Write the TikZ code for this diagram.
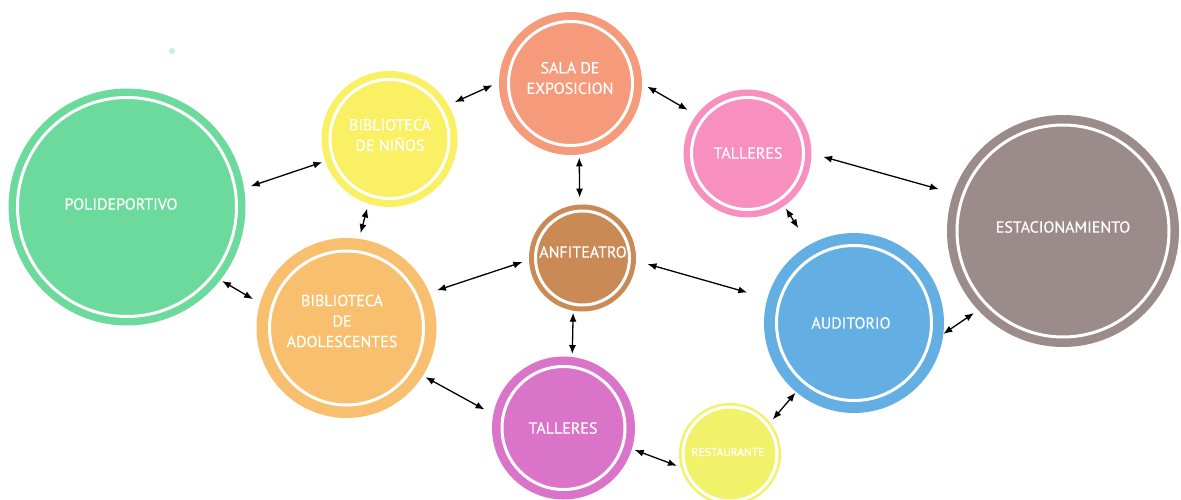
\documentclass[tikz,border=0pt]{standalone}
\usepackage{fontspec}
\setmainfont{PT Sans}
\newfontfamily\roomfont{PT Sans}[FakeBold=0.3]
\usepackage{xcolor}
\usepackage{tikz}
\usetikzlibrary{arrows.meta}
\definecolor{polidgreen}{HTML}{6CDA9C}
\definecolor{ninosyellow}{HTML}{FAF063}
\definecolor{salasalmon}{HTML}{F59A7A}
\definecolor{talleresrosa}{HTML}{F78FBF}
\definecolor{estacgray}{HTML}{9B8B8A}
\definecolor{anfibrown}{HTML}{C98A55}
\definecolor{adolorange}{HTML}{F8C06E}
\definecolor{audiblue}{HTML}{63AEE3}
\definecolor{talleresmagenta}{HTML}{DA74C8}
\definecolor{restyellow}{HTML}{F2F26A}
\definecolor{dotgreen}{HTML}{C8F0D2}

\tikzset{
  room/.style n args={3}{circle, inner sep=0pt, minimum size=2*#2, fill=#1,
        draw=white, line width=3pt, outer sep=#3,
        preaction={draw=#1, line width=2*#3}},
  roomtext/.style={text=white, align=center, inner sep=0pt,
        font=\roomfont\fontsize{16}{20.5}\selectfont},
  link/.style={arrows={Latex[length=9pt,width=7pt]-Latex[length=9pt,width=7pt]},
        line width=1.3pt, black},
}

\begin{document}
\begin{tikzpicture}[x=1pt, y=-1pt]
  \fill[white] (0,0) rectangle (1181,500);
  \useasboundingbox (0,0) rectangle (1181,500);
  \fill[dotgreen] (172,51) circle (3);

  % rooms
  \node[room={polidgreen}{109.5pt}{9pt}] (polid) at (127,207) {};
  \node[room={ninosyellow}{59.5pt}{8.5pt}] (ninos) at (389.5,139) {};
  \node[room={salasalmon}{62pt}{9.5pt}] (sala) at (570.5,83.5) {};
  \node[room={talleresrosa}{56pt}{8pt}] (tallA) at (747.5,153.5) {};
  \node[room={estacgray}{106pt}{10pt}] (estac) at (1063,231) {};
  \node[room={anfibrown}{47pt}{6.5pt}] (anfi) at (582.5,258) {};
  \node[room={adolorange}{77pt}{13pt}] (adol) at (346.5,328) {};
  \node[room={audiblue}{77.5pt}{12.5pt}] (audi) at (854,323) {};
  \node[room={talleresmagenta}{61.5pt}{10pt}] (tallB) at (563.5,428) {};
  \node[room={restyellow}{47pt}{4pt}] (rest) at (730,454) {};

  % names
  \node[roomtext] (polid-t) at (121,204) {POLIDEPORTIVO};
  \node[roomtext] (ninos-t) at (390,135) {BIBLIOTECA\\DE NIÑOS};
  \node[roomtext] (sala-t) at (570,78) {SALA DE\\EXPOSICION};
  \node[roomtext] (tallA-t) at (748,153) {TALLERES};
  \node[roomtext] (estac-t) at (1063,227) {ESTACIONAMIENTO};
  \node[roomtext] (anfi-t) at (583,252) {ANFITEATRO};
  \node[roomtext] (adol-t) at (342,321) {BIBLIOTECA\\DE\\ADOLESCENTES};
  \node[roomtext] (audi-t) at (851,323) {AUDITORIO};
  \node[roomtext] (tallB-t) at (563,428) {TALLERES};
  \node[roomtext, font=\roomfont\fontsize{11.5}{14}\selectfont] (rest-t) at (728,452) {RESTAURANTE};

  % links
  \draw[link, shorten <=7pt, shorten >=3pt] (polid.9) -- (ninos.199);
  \draw[link, shorten <=2pt, shorten >=8pt] (polid.322) -- (adol.164);
  \draw[link, shorten <=7pt, shorten >=7pt] (ninos.30) -- (sala.179);
  \draw[link, shorten <=5pt, shorten >=6pt] (ninos.252) -- (adol.82);
  \draw[link, shorten <=3pt, shorten >=7pt] (sala.277) -- (anfi.93);
  \draw[link, shorten <=6pt, shorten >=10pt] (sala.0) -- (tallA.143);
  \draw[link, shorten <=12pt, shorten >=15pt] (tallA.0) -- (estac.161);
  \draw[link, shorten <=3pt, shorten >=20pt] (tallA.305) -- (audi.120);
  \draw[link, shorten <=12pt, shorten >=21pt] (anfi.357) -- (audi.164);
  \draw[link, shorten <=8pt, shorten >=7pt] (adol.23) -- (anfi.182);
  \draw[link, shorten <=2pt, shorten >=3pt] (anfi.260) -- (tallB.83);
  \draw[link, shorten <=3pt, shorten >=10pt] (adol.328) -- (tallB.169);
  \draw[link, shorten <=3pt, shorten >=4pt] (tallB.343) -- (rest.195);
  \draw[link, shorten <=4pt, shorten >=1pt] (rest.38) -- (audi.230);
  \draw[link, shorten <=0pt, shorten >=5pt] (audi.353) -- (estac.223);
\end{tikzpicture}
\end{document}
